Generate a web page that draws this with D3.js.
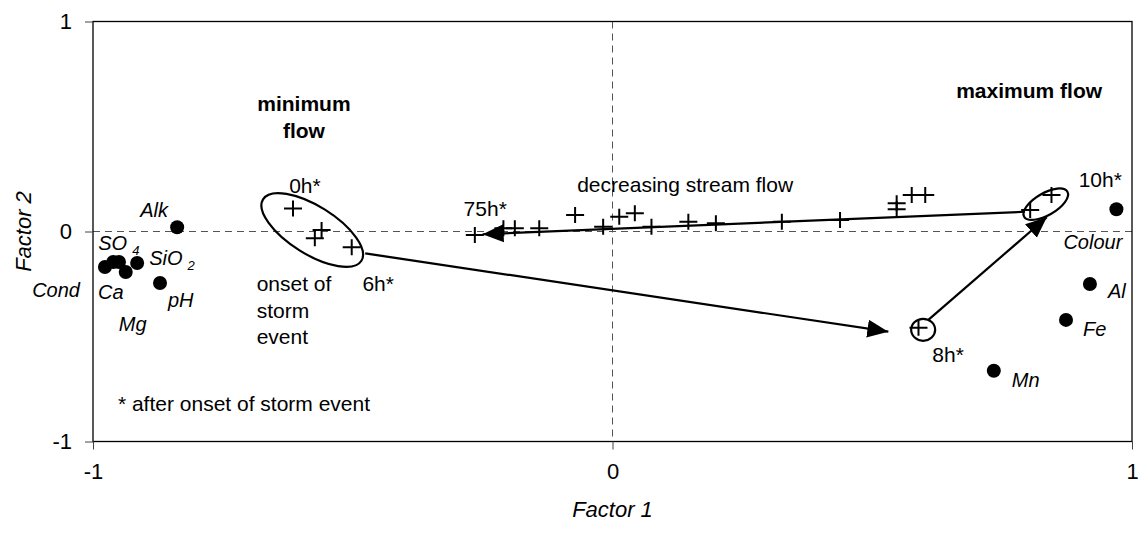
<!DOCTYPE html>
<html>
<head>
<meta charset="utf-8">
<script src="https://cdn.jsdelivr.net/npm/d3@7"></script>
<style>
  body { margin: 0; background: #fff; }
  svg { font-family: Arial, 'Liberation Sans', sans-serif; }
</style>
</head>
<body>
<svg id="chart" width="1141" height="536"></svg>
<script>
// Variables (factor loadings)
const varNames = ['Cond', 'SO4', 'Ca', 'Mg', 'SiO2', 'pH', 'Alk', 'Colour', 'Al', 'Fe', 'Mn'];
const varF1 = [-0.977, -0.961, -0.950, -0.937, -0.915, -0.871, -0.838, 0.970, 0.919, 0.873, 0.734];
const varF2 = [-0.169, -0.145, -0.145, -0.193, -0.150, -0.245, 0.020, 0.106, -0.250, -0.421, -0.663];

// Samples (factor scores)
const sampleF1 = [-0.615, -0.560, -0.573, -0.502, 0.589, 0.804, 0.845, 0.602, 0.576, 0.547, 0.547, 0.438,
  0.326, 0.199, 0.146, 0.075, 0.043, 0.013, -0.018, -0.072, -0.141, -0.188, -0.210, -0.265];
const sampleF2 = [0.110, 0.007, -0.032, -0.075, -0.458, 0.102, 0.174, 0.174, 0.174, 0.134, 0.106, 0.055,
  0.047, 0.039, 0.047, 0.023, 0.087, 0.070, 0.023, 0.079, 0.015, 0.015, 0.015, -0.017];

// Ticks
const ticks = [-1, 0, 1];

// Arrows: [from, to] in factor units
const arrows = [
  [[-0.476, -0.104], [0.531, -0.477]],
  [[0.608, -0.421], [0.836, 0.068]],
  [[0.794, 0.094], [-0.250, -0.013]]
];

// Ellipses round sample groups: centre in factor units
const groups = [
  {cx: -0.578, cy: 0.007, rx: 58, ry: 24, rot: 32},
  {cx: 0.834, cy: 0.130, rx: 25, ry: 11, rot: -30},
  {cx: 0.598, cy: -0.468, rx: 12, ry: 11, rot: 0}
];

// Text notes
const notes = [
  {text: 'minimum', x: -0.594, y: 0.574, anchor: 'middle', bold: true},
  {text: 'flow', x: -0.594, y: 0.445, anchor: 'middle', bold: true},
  {text: 'maximum flow', x: 0.802, y: 0.636, anchor: 'middle', bold: true},
  {text: '0h*', x: -0.592, y: 0.183, anchor: 'middle'},
  {text: '6h*', x: -0.451, y: -0.283, anchor: 'middle'},
  {text: 'onset of', x: -0.685, y: -0.282, anchor: 'start'},
  {text: 'storm', x: -0.685, y: -0.412, anchor: 'start'},
  {text: 'event', x: -0.685, y: -0.536, anchor: 'start'},
  {text: '75h*', x: -0.245, y: 0.074, anchor: 'middle'},
  {text: 'decreasing stream flow', x: -0.068, y: 0.188, anchor: 'start'},
  {text: '10h*', x: 0.939, y: 0.212, anchor: 'middle'},
  {text: '8h*', x: 0.646, y: -0.621, anchor: 'middle'},
  {text: '* after onset of storm event', x: -0.952, y: -0.855, anchor: 'start'}
];

// Label placement for variables (pixel offsets from point)
const labelPlace = {
  Cond: [-25, 30, 'end'], SO4: [-15, -12, 'start'], Ca: [-21, 37, 'start'], Mg: [-7, 59, 'start'],
  SiO2: [12, 2, 'start'], pH: [8, 24, 'start'], Alk: [-37, -10, 'start'], Colour: [-53, 40, 'start'],
  Al: [18, 14, 'start'], Fe: [17, 16, 'start'], Mn: [18, 16, 'start']
};

const plotLeft = 93, plotRight = 1132, plotTop = 21.5, plotBottom = 441.5;
const x = d3.scaleLinear().domain([-1, 1]).range([plotLeft, plotRight]);
const y = d3.scaleLinear().domain([-1, 1]).range([plotBottom, plotTop]);

const svg = d3.select('#chart');

svg.append('defs').append('marker')
  .attr('id', 'head')
  .attr('markerUnits', 'userSpaceOnUse')
  .attr('viewBox', '0 -10 22 20')
  .attr('markerWidth', 22)
  .attr('markerHeight', 20)
  .attr('refX', 21)
  .attr('refY', 0)
  .attr('orient', 'auto')
  .append('path')
  .attr('d', 'M0,-9L21,0L0,9Z')
  .attr('fill', '#000');

// Zero lines
svg.append('line')
  .attr('x1', x(0)).attr('x2', x(0)).attr('y1', plotTop).attr('y2', plotBottom)
  .attr('stroke', '#555').attr('stroke-dasharray', '7,5');
svg.append('line')
  .attr('x1', plotLeft).attr('x2', plotRight).attr('y1', y(0)).attr('y2', y(0))
  .attr('stroke', '#555').attr('stroke-dasharray', '7,5');

// Frame
svg.append('rect')
  .attr('x', plotLeft).attr('y', plotTop)
  .attr('width', plotRight - plotLeft).attr('height', plotBottom - plotTop)
  .attr('fill', 'none').attr('stroke', '#000').attr('stroke-width', 1.3);

// Axes
const fmt = d => String(d);
const xAxis = svg.append('g')
  .attr('transform', `translate(0,${plotBottom})`)
  .call(d3.axisBottom(x).tickValues(ticks).tickSize(8).tickPadding(14).tickFormat(fmt));
const yAxis = svg.append('g')
  .attr('transform', `translate(${plotLeft},0)`)
  .call(d3.axisLeft(y).tickValues(ticks).tickSize(8).tickPadding(13).tickFormat(fmt));
[xAxis, yAxis].forEach(a => {
  a.select('.domain').remove();
  a.selectAll('.tick line').attr('stroke', '#444');
  a.selectAll('.tick text')
    .attr('font-family', 'Arial, "Liberation Sans", sans-serif')
    .attr('font-size', 22).attr('fill', '#000');
});

svg.append('text')
  .attr('x', x(0)).attr('y', 517)
  .attr('text-anchor', 'middle')
  .attr('font-size', 22).attr('font-style', 'italic')
  .text('Factor 1');
svg.append('text')
  .attr('transform', `translate(31,${y(0)}) rotate(-90)`)
  .attr('text-anchor', 'middle')
  .attr('font-size', 22).attr('font-style', 'italic')
  .text('Factor 2');

// Group ellipses
svg.append('g').selectAll('ellipse')
  .data(groups)
  .join('ellipse')
  .attr('transform', d => `translate(${x(d.cx)},${y(d.cy)}) rotate(${d.rot})`)
  .attr('rx', d => d.rx).attr('ry', d => d.ry)
  .attr('fill', 'none').attr('stroke', '#000').attr('stroke-width', 2.2);

// Arrows
svg.append('g').selectAll('line')
  .data(arrows)
  .join('line')
  .attr('x1', d => x(d[0][0])).attr('y1', d => y(d[0][1]))
  .attr('x2', d => x(d[1][0])).attr('y2', d => y(d[1][1]))
  .attr('stroke', '#000').attr('stroke-width', 2.2)
  .attr('marker-end', 'url(#head)');

// Samples as plus signs
const samples = sampleF1.map((v, i) => ({f1: v, f2: sampleF2[i]}));
svg.append('g').selectAll('path')
  .data(samples)
  .join('path')
  .attr('d', d => `M${x(d.f1) - 9},${y(d.f2)}h18M${x(d.f1)},${y(d.f2) - 8}v16`)
  .attr('stroke', '#000').attr('stroke-width', 2).attr('fill', 'none');

// Variables as dots
const vars = varNames.map((n, i) => ({name: n, f1: varF1[i], f2: varF2[i]}));
svg.append('g').selectAll('circle')
  .data(vars)
  .join('circle')
  .attr('cx', d => x(d.f1)).attr('cy', d => y(d.f2))
  .attr('r', 7).attr('fill', '#000');

const labels = svg.append('g')
  .attr('font-size', 20).attr('font-style', 'italic')
  .selectAll('text')
  .data(vars)
  .join('text')
  .attr('x', d => x(d.f1) + labelPlace[d.name][0])
  .attr('y', d => y(d.f2) + labelPlace[d.name][1])
  .attr('text-anchor', d => labelPlace[d.name][2]);
labels.each(function(d) {
  const t = d3.select(this);
  const m = d.name.match(/^(\D+)(\d)$/);
  if (m) {
    t.append('tspan').text(m[1]);
    t.append('tspan').attr('dx', 5).attr('dy', 5).attr('font-size', 13).text(m[2]);
  } else {
    t.text(d.name);
  }
});

// Notes
svg.append('g').selectAll('text')
  .data(notes)
  .join('text')
  .attr('x', d => x(d.x)).attr('y', d => y(d.y))
  .attr('text-anchor', d => d.anchor)
  .attr('font-size', 21)
  .attr('font-weight', d => d.bold ? 'bold' : 'normal')
  .text(d => d.text);
</script>
</body>
</html>
